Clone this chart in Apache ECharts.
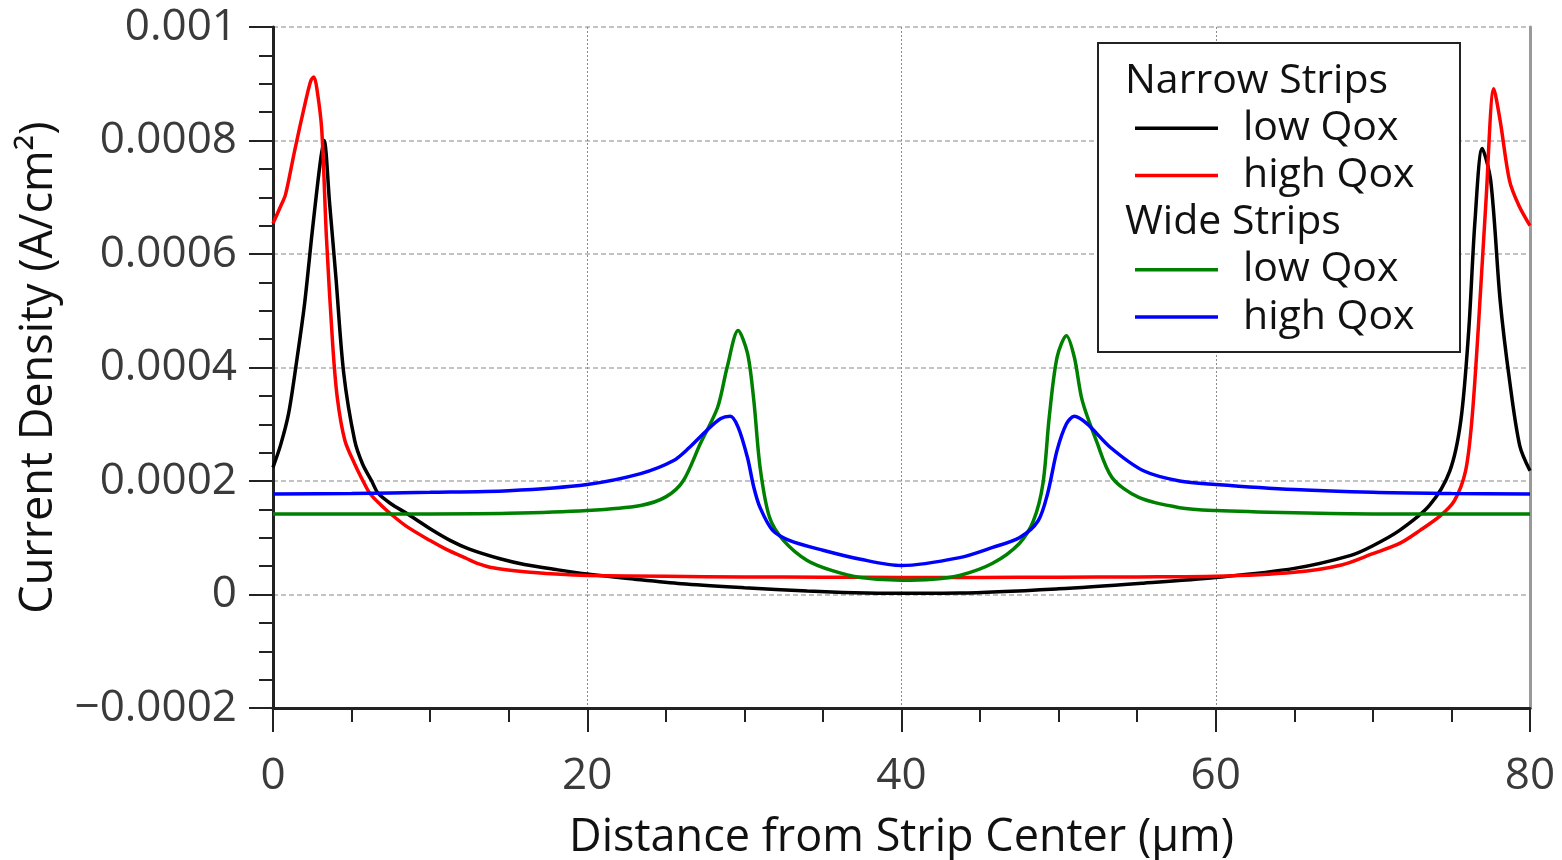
<!DOCTYPE html>
<html>
<head>
<meta charset="utf-8">
<script src="https://cdn.jsdelivr.net/npm/echarts@6/dist/echarts.min.js"></script>
<style>
  html, body { margin: 0; padding: 0; background: #ffffff; }
  #chart { width: 1562px; height: 860px; }
</style>
</head>
<body>
<div id="chart"></div>
<script>
// Current density profiles across the strip (A/cm²) vs. distance from strip center (µm)

// Narrow strips, low oxide charge
const narrowLowX = [0, 0.5, 1, 1.5, 2, 2.5, 3, 3.25, 3.6, 4, 4.5, 5.2, 5.7, 6.28, 6.7, 7.5, 8.5, 10, 11.3, 12.5, 14.45, 16, 18, 20, 23, 26, 30, 34, 37, 40,
  43.7, 50, 55.4, 60, 65, 68.6, 70, 71.7, 73.6, 74.9, 75.6, 76.1, 76.5, 76.96, 77.5, 78.1, 78.7, 79.35, 80];
const narrowLowY = [2.24e-4, 2.65e-4, 3.2e-4, 4.1e-4, 5.1e-4, 6.4e-4, 7.6e-4, 8.0e-4, 6.9e-4, 5.6e-4, 3.9e-4, 2.71e-4, 2.3e-4, 2.0e-4, 1.78e-4, 1.6e-4, 1.43e-4, 1.16e-4, 0.95e-4, 0.8e-4, 0.63e-4, 0.53e-4, 0.44e-4, 0.36e-4, 0.27e-4, 0.19e-4, 0.12e-4, 0.06e-4, 0.03e-4, 0.02e-4,
  0.025e-4, 0.1e-4, 0.2e-4, 0.3e-4, 0.46e-4, 0.69e-4, 0.86e-4, 1.13e-4, 1.57e-4, 2.18e-4, 3.07e-4, 4.65e-4, 6.59e-4, 7.86e-4, 7.29e-4, 5.18e-4, 3.77e-4, 2.62e-4, 2.18e-4];

// Narrow strips, high oxide charge
const narrowHighX = [0, 0.5, 0.8, 1.4, 2.0, 2.4, 2.6, 2.8, 3.1, 3.4, 3.8, 4.1, 4.58, 5.2, 5.73, 6.17, 6.85, 7.45, 8.5, 10, 11, 12.35, 13, 14, 16, 18, 20, 25, 30, 35, 40,
  45, 50, 55, 60, 65, 68, 70, 71.7, 73, 74.3, 75.2, 75.9, 76.3, 76.7, 77.2, 77.7, 78.1, 78.7, 79.3, 80];
const narrowHighY = [6.54e-4, 6.85e-4, 7.05e-4, 7.85e-4, 8.6e-4, 9.05e-4, 9.12e-4, 8.9e-4, 8.2e-4, 6.3e-4, 4.4e-4, 3.45e-4, 2.71e-4, 2.3e-4, 2.0e-4, 1.78e-4, 1.58e-4, 1.43e-4, 1.2e-4, 0.95e-4, 0.8e-4, 0.63e-4, 0.55e-4, 0.47e-4, 0.4e-4, 0.36e-4, 0.335e-4, 0.32e-4, 0.31e-4, 0.305e-4, 0.3e-4,
  0.3e-4, 0.305e-4, 0.31e-4, 0.32e-4, 0.39e-4, 0.52e-4, 0.72e-4, 0.9e-4, 1.13e-4, 1.39e-4, 1.66e-4, 2.18e-4, 3.07e-4, 4.65e-4, 6.94e-4, 8.91e-4, 8.35e-4, 7.29e-4, 6.85e-4, 6.5e-4];

// Wide strips, low oxide charge
const wideLowX = [0, 5, 10, 15, 20, 23.4, 25, 26.1, 27.2, 28.3, 28.9, 29.6, 30.2, 30.6, 31.0, 31.6, 32.5, 34, 35.6, 37.4, 40,
  42, 43.7, 45.8, 47.5, 48.4, 49.0, 49.4, 49.9, 50.5, 51.0, 51.5, 52.4, 53.4, 55.1, 57.7, 60, 65, 70, 80];
const wideLowY = [1.42e-4, 1.42e-4, 1.42e-4, 1.43e-4, 1.48e-4, 1.57e-4, 1.72e-4, 2.0e-4, 2.66e-4, 3.3e-4, 4.0e-4, 4.65e-4, 4.25e-4, 3.42e-4, 2.24e-4, 1.36e-4, 0.95e-4, 0.6e-4, 0.42e-4, 0.3e-4, 0.25e-4,
  0.27e-4, 0.335e-4, 0.55e-4, 0.9e-4, 1.3e-4, 1.95e-4, 3.12e-4, 4.18e-4, 4.56e-4, 4.18e-4, 3.42e-4, 2.71e-4, 2.06e-4, 1.71e-4, 1.53e-4, 1.48e-4, 1.44e-4, 1.42e-4, 1.42e-4];

// Wide strips, high oxide charge
const wideHighX = [0, 5, 10, 15, 20, 23.4, 25.5, 26.5, 27.6, 28.5, 29.1, 29.6, 30.2, 30.6, 31.0, 31.8, 32.9, 35.0, 37.4, 40,
  43.7, 45.8, 47.5, 48.7, 49.3, 49.9, 50.5, 51.0, 51.8, 53.3, 55.4, 57.7, 60, 65, 70, 75, 80];
const wideHighY = [1.77e-4, 1.78e-4, 1.8e-4, 1.83e-4, 1.94e-4, 2.13e-4, 2.36e-4, 2.59e-4, 2.89e-4, 3.1e-4, 3.14e-4, 2.95e-4, 2.41e-4, 1.89e-4, 1.53e-4, 1.13e-4, 0.95e-4, 0.78e-4, 0.62e-4, 0.51e-4,
  0.65e-4, 0.83e-4, 1.0e-4, 1.3e-4, 1.78e-4, 2.54e-4, 3.01e-4, 3.14e-4, 3.01e-4, 2.59e-4, 2.18e-4, 2.0e-4, 1.94e-4, 1.85e-4, 1.8e-4, 1.78e-4, 1.77e-4];

const xTitle = 'Distance from Strip Center (μm)';
const yTitle = 'Current Density (A/cm²)';

const legendGroups = [
  { header: 'Narrow Strips', items: [{ label: 'low Qox', color: '#000000' }, { label: 'high Qox', color: '#ff0000' }] },
  { header: 'Wide Strips', items: [{ label: 'low Qox', color: '#008000' }, { label: 'high Qox', color: '#0000ff' }] }
];

const FONT = '"Open Sans", "DejaVu Sans", sans-serif';

function pairs(xs, ys) { return xs.map((x, i) => [x, ys[i]]); }

function fmtY(v) {
  const n = Number(v.toFixed(6));
  if (n === 0) return '0';
  return String(n).replace('-', '\u2212');
}

function lineSeries(name, xs, ys, color) {
  return {
    name: name,
    type: 'line',
    data: pairs(xs, ys),
    showSymbol: false,
    smooth: 0.3,
    lineStyle: { color: color, width: 3.5 },
    itemStyle: { color: color },
    z: 3
  };
}

// Legend box with group headers, drawn as graphic elements
function buildLegend() {
  const els = [];
  const boxX = 1098, boxY = 43, boxW = 362, boxH = 309;
  els.push({ type: 'rect', shape: { x: boxX, y: boxY, width: boxW, height: boxH },
    style: { fill: '#ffffff', stroke: '#222222', lineWidth: 2 }, z: 100 });
  let y = 81;
  const step = 47.2;
  legendGroups.forEach(g => {
    els.push({ type: 'text', x: 1125, y: y, z: 101,
      style: { text: g.header, font: '41px ' + FONT, fill: '#111111', textVerticalAlign: 'middle' } });
    y += step;
    g.items.forEach(it => {
      els.push({ type: 'line', z: 101, shape: { x1: 1135, y1: y, x2: 1218, y2: y },
        style: { stroke: it.color, lineWidth: 3.5 } });
      els.push({ type: 'text', x: 1243, y: y, z: 101,
        style: { text: it.label, font: '41px ' + FONT, fill: '#111111', textVerticalAlign: 'middle' } });
      y += step;
    });
  });
  return els;
}

const chart = echarts.init(document.getElementById('chart'), null, { renderer: 'canvas' });

chart.setOption({
  animation: false,
  backgroundColor: '#ffffff',
  grid: { left: 273, right: 32, top: 27, bottom: 152, containLabel: false, outerBoundsMode: 'none' },
  xAxis: {
    type: 'value',
    min: 0, max: 80, interval: 20,
    name: xTitle,
    nameLocation: 'middle',
    nameGap: 108,
    nameTextStyle: { fontFamily: FONT, fontSize: 45, color: '#111111' },
    axisLine: { show: true, onZero: false, lineStyle: { color: '#222222', width: 3 } },
    axisTick: { show: true, inside: false, length: 24, lineStyle: { color: '#222222', width: 2 } },
    minorTick: { show: true, splitNumber: 4, length: 14, lineStyle: { color: '#222222', width: 2 } },
    axisLabel: { fontFamily: FONT, fontSize: 44, color: '#3a3a3a', margin: 46 },
    splitLine: { show: true, lineStyle: { color: '#8a8a8a', width: 1, type: [2, 2] } }
  },
  yAxis: [{
    type: 'value',
    min: -0.0002, max: 0.001, interval: 0.0002,
    name: yTitle,
    nameLocation: 'middle',
    nameGap: 211,
    nameTextStyle: { fontFamily: FONT, fontSize: 45, color: '#111111' },
    axisLine: { show: true, onZero: false, lineStyle: { color: '#222222', width: 3 } },
    axisTick: { show: true, inside: false, length: 24, lineStyle: { color: '#222222', width: 2 } },
    minorTick: { show: true, splitNumber: 4, length: 14, lineStyle: { color: '#222222', width: 2 } },
    axisLabel: { fontFamily: FONT, fontSize: 44, color: '#3a3a3a', margin: 36, formatter: fmtY },
    splitLine: { show: true, lineStyle: { color: '#b0b0b0', width: 1.5, type: [5, 3] } }
  }, {
    type: 'value',
    position: 'right',
    min: -0.0002, max: 0.001, interval: 0.0002,
    axisLine: { show: true, onZero: false, lineStyle: { color: '#9a9a9a', width: 3 } },
    axisTick: { show: false },
    axisLabel: { show: false },
    splitLine: { show: false }
  }],
  series: [
    lineSeries('Narrow Strips low Qox', narrowLowX, narrowLowY, '#000000'),
    lineSeries('Narrow Strips high Qox', narrowHighX, narrowHighY, '#ff0000'),
    lineSeries('Wide Strips low Qox', wideLowX, wideLowY, '#008000'),
    lineSeries('Wide Strips high Qox', wideHighX, wideHighY, '#0000ff')
  ],
  graphic: buildLegend()
});
</script>
</body>
</html>
